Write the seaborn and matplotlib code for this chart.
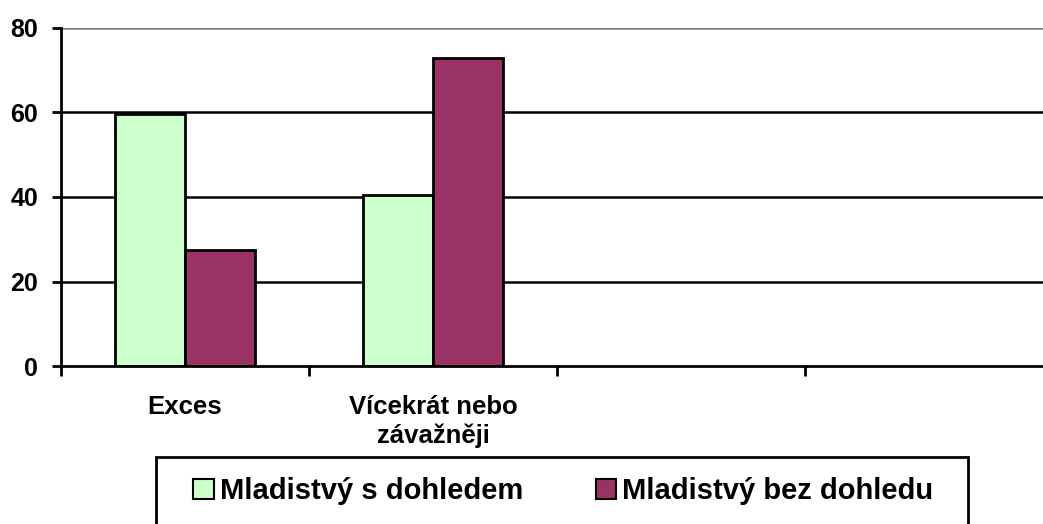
import matplotlib
import pandas as pd
import seaborn as sns

matplotlib.use("Agg")

import matplotlib.pyplot as plt
from matplotlib.patches import Patch, Rectangle

categories = ["Exces", "Vícekrát nebo\nzávažněji"]
series_names = ["Mladistvý s dohledem", "Mladistvý bez dohledu"]
s_dohledem = [59.6, 40.4]
bez_dohledu = [27.4, 72.9]
y_ticks = [0, 20, 40, 60, 80]
colors = ["#CCFFCC", "#993366"]

data = pd.DataFrame({
    "kategorie": categories * 2,
    "skupina": [series_names[0]] * 2 + [series_names[1]] * 2,
    "hodnota": s_dohledem + bez_dohledu,
})

sns.set_style("white")
plt.rcParams["font.family"] = ["Liberation Sans", "DejaVu Sans"]
plt.rcParams["font.weight"] = "bold"
plt.rcParams["text.color"] = "black"
plt.rcParams["xtick.color"] = "black"
plt.rcParams["ytick.color"] = "black"

fig = plt.figure(figsize=(10.43, 5.24), dpi=100)
ax = fig.add_axes([61 / 1043, 158 / 524, 992 / 1043, 338 / 524])

sns.barplot(
    data=data, x="kategorie", y="hodnota", hue="skupina",
    order=categories, hue_order=series_names, palette=colors, saturation=1,
    width=0.565, edgecolor="black", linewidth=2, legend=False, ax=ax,
)

ax.set_xlim(-0.5, 3.5)
ax.set_ylim(0, 80)
ax.set_xlabel("")
ax.set_ylabel("")

# gridlines
for y in y_ticks[1:]:
    ax.axhline(y, color="#808080" if y == 80 else "black", lw=1.8, zorder=0)

for side in ["top", "right"]:
    ax.spines[side].set_visible(False)
ax.spines["left"].set_linewidth(2)
ax.spines["bottom"].set_linewidth(2)
ax.spines["left"].set_color("black")
ax.spines["bottom"].set_color("black")

ax.set_yticks(y_ticks)
ax.set_yticklabels([str(v) for v in y_ticks], fontsize=18, fontweight="bold")
ax.tick_params(axis="y", which="major", direction="out", length=6.5, width=2, pad=10, left=True)

ax.set_xticks([-0.5, 0.5, 1.5, 2.5, 3.5])
ax.set_xticklabels([])
ax.set_xticks([0, 1], minor=True)
ax.set_xticklabels(categories, minor=True, fontsize=18.5, fontweight="bold", linespacing=1.2)
ax.tick_params(axis="x", which="major", direction="out", length=7, width=2, bottom=True)
ax.tick_params(axis="x", which="minor", length=0, pad=21)

handles = [Patch(facecolor=c, edgecolor="black", linewidth=1.5) for c in colors]
fig.legend(
    handles, series_names, loc="center", bbox_to_anchor=(0.540, 0.063),
    ncol=2, frameon=False, prop={"size": 21, "weight": "bold"},
    handlelength=0.7, handleheight=0.7, handletextpad=0.2,
    columnspacing=2.5, borderpad=0,
)
fig.add_artist(Rectangle(
    (156 / 1043, -0.02), 812 / 1043, 0.02 + 67 / 524,
    transform=fig.transFigure, fill=False, edgecolor="black", linewidth=2,
))

fig.savefig("out.png", dpi=100)
